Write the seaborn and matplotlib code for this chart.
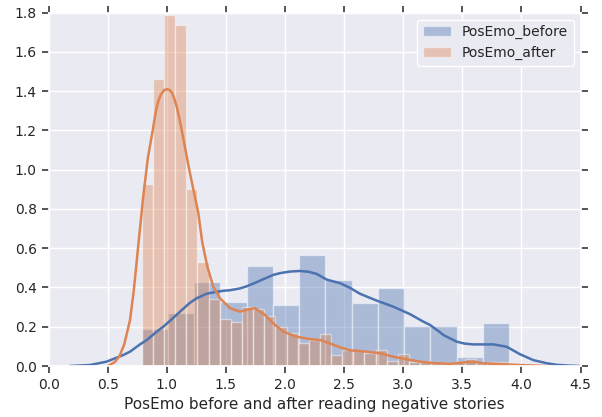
import numpy as np
import pandas as pd
import matplotlib
matplotlib.use("Agg")
import matplotlib.pyplot as plt
import seaborn as sns

# Positive-emotion scores: range shared by both samples
data_min = 0.788
data_max = 3.897

# Histogram densities (per bin, equal-width bins between data_min and data_max)
before_density = [0.187, 0.271, 0.426, 0.328, 0.509, 0.311, 0.565,
                  0.438, 0.323, 0.396, 0.205, 0.205, 0.047, 0.221]
after_density = [0.925, 1.464, 1.790, 1.739, 0.900, 0.530, 0.339, 0.239,
                 0.222, 0.298, 0.292, 0.257, 0.198, 0.166, 0.115, 0.132,
                 0.163, 0.055, 0.083, 0.075, 0.068, 0.083, 0.028, 0.062,
                 0.022, 0.020, 0.014, 0.014, 0.020, 0.038, 0.014, 0.022,
                 0.020]

# Kernel density estimates
before_kde_x = [0.18, 0.35, 0.49, 0.632, 0.689, 0.773, 0.83, 0.915, 0.970,
                1.055, 1.112, 1.196, 1.253, 1.337, 1.393, 1.478, 1.535,
                1.619, 1.676, 1.761, 1.816, 1.901, 1.958, 2.042, 2.127,
                2.20, 2.268, 2.353, 2.465, 2.55, 2.634, 2.776, 2.917, 3.058,
                3.17, 3.227, 3.311, 3.339, 3.452, 3.52, 3.593, 3.70, 3.762,
                3.876, 3.988, 4.101, 4.214, 4.298, 4.40, 4.50]
before_kde_y = [0.0, 0.005, 0.022, 0.056, 0.073, 0.110, 0.132, 0.175, 0.200,
                0.245, 0.277, 0.322, 0.345, 0.368, 0.375, 0.383, 0.386,
                0.395, 0.406, 0.427, 0.442, 0.464, 0.473, 0.481, 0.484,
                0.480, 0.469, 0.440, 0.422, 0.398, 0.368, 0.333, 0.302,
                0.264, 0.226, 0.209, 0.172, 0.158, 0.124, 0.114, 0.110,
                0.110, 0.110, 0.098, 0.060, 0.030, 0.014, 0.006, 0.002, 0.0]

after_kde_x = [0.50, 0.56, 0.60, 0.64, 0.689, 0.72, 0.75, 0.80, 0.84, 0.881,
               0.905, 0.928, 0.950, 0.970, 0.988, 1.004, 1.022, 1.041, 1.062,
               1.084, 1.105, 1.126, 1.196, 1.267, 1.30, 1.343, 1.393, 1.450,
               1.535, 1.619, 1.70, 1.746, 1.831, 1.901, 1.986, 2.099, 2.211,
               2.296, 2.381, 2.465, 2.55, 2.69, 2.804, 2.917, 3.03, 3.142,
               3.255, 3.40, 3.537, 3.60, 3.678, 3.847, 4.016, 4.21]
after_kde_y = [0.0, 0.02, 0.05, 0.11, 0.234, 0.38, 0.56, 0.86, 1.06, 1.20,
               1.29, 1.350, 1.382, 1.400, 1.408, 1.410, 1.406, 1.395, 1.365,
               1.321, 1.265, 1.202, 0.982, 0.778, 0.63, 0.506, 0.404, 0.345,
               0.294, 0.277, 0.290, 0.294, 0.260, 0.217, 0.175, 0.149, 0.137,
               0.132, 0.115, 0.095, 0.080, 0.073, 0.065, 0.047, 0.034, 0.022,
               0.015, 0.011, 0.020, 0.021, 0.014, 0.009, 0.004, 0.0]

labels = ["PosEmo_before", "PosEmo_after"]
colors = ["#4C72B0", "#DD8452"]

sns.set_theme(style="darkgrid", context="notebook",
              rc={"xtick.labelsize": 10, "ytick.labelsize": 10,
                  "axes.labelsize": 11, "legend.fontsize": 10})
plt.rcParams["font.family"] = ["DejaVu Sans"]

fig = plt.figure(figsize=(6.02, 4.17), dpi=100)
ax = fig.add_axes([0.0807, 0.1223, 0.8836, 0.8475])


def draw_hist(density, color, label):
    n = len(density)
    edges = np.linspace(data_min, data_max, n + 1)
    table = pd.DataFrame({
        "score": (edges[:-1] + edges[1:]) / 2,
        "density": density,
    })
    sns.histplot(data=table, x="score", weights="density",
                 bins=[float(e) for e in edges], stat="count",
                 color=color, alpha=0.4, edgecolor=(1, 1, 1, 0.45),
                 linewidth=1.0, label=label, ax=ax)


draw_hist(before_density, colors[0], labels[0])
sns.lineplot(x=before_kde_x, y=before_kde_y, color=colors[0], lw=1.8, ax=ax)
draw_hist(after_density, colors[1], labels[1])
sns.lineplot(x=after_kde_x, y=after_kde_y, color=colors[1], lw=1.8, ax=ax)

ax.set_xlim(0, 4.5)
ax.set_ylim(0, 1.8)
ax.set_xticks(np.arange(0, 4.51, 0.5))
ax.set_yticks(np.arange(0, 1.81, 0.2))
ax.xaxis.set_major_formatter(matplotlib.ticker.FormatStrFormatter("%.1f"))
ax.yaxis.set_major_formatter(matplotlib.ticker.FormatStrFormatter("%.1f"))
ax.tick_params(direction="out", length=5, width=1.1, color="#262626",
               top=True, right=True, bottom=True, left=True,
               labeltop=False, labelright=False)
ax.set_xlabel("PosEmo before and after reading negative stories")
ax.set_ylabel("")

handles, labs = ax.get_legend_handles_labels()
ax.legend(handles[:2], labs[:2], loc="upper right", frameon=True,
          facecolor="#EAEAF2", edgecolor="white", framealpha=1.0,
          borderaxespad=0.5)

fig.savefig("out.png", dpi=100)
